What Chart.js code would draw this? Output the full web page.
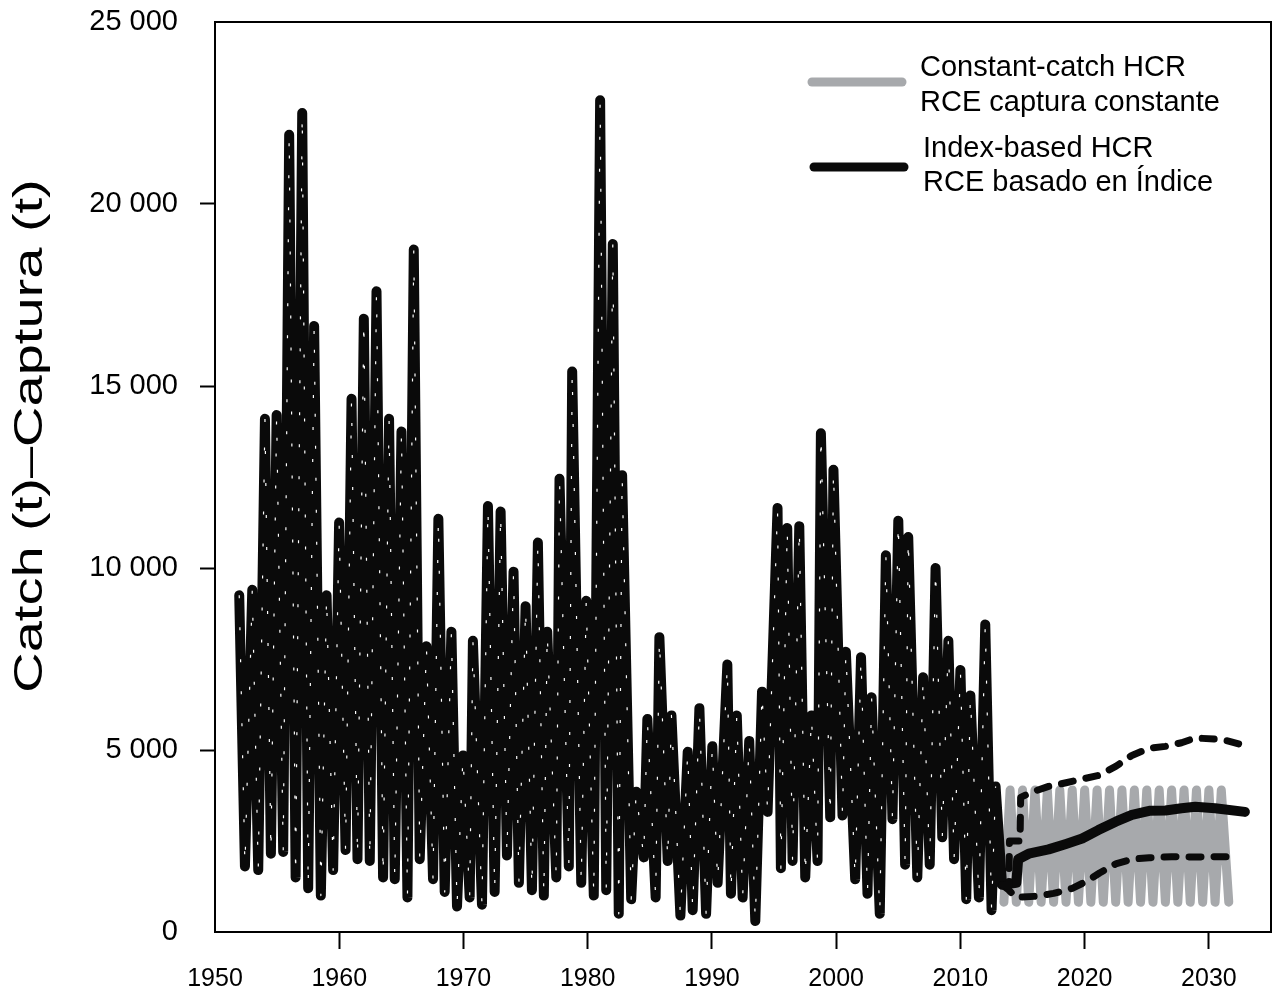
<!DOCTYPE html>
<html>
<head>
<meta charset="utf-8">
<script src="https://cdn.jsdelivr.net/npm/chart.js@4.4.1/dist/chart.umd.min.js"></script>
<style>
  html, body { margin: 0; padding: 0; background: #fff; }
  canvas { display: block; }
</style>
</head>
<body>
<canvas id="catchChart" width="1273" height="994"></canvas>
<script>
// observed catch (t), one peak and one trough per season
const histYears = [
  1951.95, 1952.41, 1953.0, 1953.48, 1954.02, 1954.5, 1954.96, 1955.49, 1955.97, 1956.49,
  1957.02, 1957.5, 1957.98, 1958.52, 1958.98, 1959.51, 1959.99, 1960.51, 1960.99, 1961.47,
  1961.98, 1962.46, 1963.0, 1963.53, 1964.01, 1964.47, 1965.01, 1965.49, 1966.0, 1966.48,
  1967.02, 1967.55, 1967.98, 1968.49, 1969.03, 1969.48, 1969.96, 1970.5, 1970.76, 1971.49,
  1971.97, 1972.51, 1972.99, 1973.5, 1974.03, 1974.46, 1975.0, 1975.51, 1975.99, 1976.47,
  1976.74, 1977.47, 1977.73, 1978.48, 1978.75, 1979.48, 1979.88, 1980.49, 1981.0, 1981.49,
  1982.02, 1982.5, 1982.77, 1983.5, 1983.9, 1984.51, 1984.8, 1985.47, 1985.77, 1986.44,
  1986.74, 1987.46, 1988.05, 1988.45, 1988.99, 1989.53, 1990.03, 1990.46, 1991.24, 1991.53,
  1992.0, 1992.47, 1993.0, 1993.49, 1994.03, 1994.48, 1995.28, 1995.55, 1996.06, 1996.49,
  1997.03, 1997.51, 1998.01, 1998.5, 1998.77, 1999.52, 1999.78, 2000.51, 2000.78, 2001.53,
  2002.0, 2002.52, 2002.85, 2003.51, 2004.0, 2004.53, 2005.0, 2005.55, 2005.8, 2006.53,
  2007.0, 2007.53, 2008.0, 2008.54, 2009.03, 2009.49, 2010.0, 2010.47, 2010.8, 2011.49,
  2012.0, 2012.51, 2012.83
];
const histCatch = [
  9250, 1800, 9400, 1700, 14100, 2150, 14200, 2200, 21900, 1500,
  22500, 1200, 16650, 1000, 9250, 1700, 11250, 2250, 14650, 2000,
  16850, 1950, 17600, 1500, 14100, 1450, 13750, 950, 18750, 2000,
  7850, 1450, 11350, 1100, 8250, 700, 4850, 950, 8000, 750,
  11700, 1100, 11550, 2100, 9900, 1350, 8950, 1150, 10700, 1000,
  8250, 1500, 12450, 1800, 15400, 1350, 9100, 1000, 22850, 1150,
  18900, 500, 12550, 900, 3850, 2050, 5850, 950, 8100, 1950,
  5950, 450, 4950, 600, 6150, 500, 5100, 1350, 7350, 1050,
  5950, 950, 5250, 300, 6600, 3300, 11650, 1750, 11100, 1950,
  11150, 1500, 5950, 1950, 13700, 3150, 12700, 3200, 7700, 1450,
  7550, 1050, 6450, 500, 10350, 3100, 11300, 1850, 10850, 1500,
  7000, 1850, 10000, 2600, 8000, 2000, 7200, 900, 6500, 950,
  8450, 600, 4000
];

// index-based HCR projection: median and dashed bounds
const medianYears = [2013.35, 2014.5, 2014.65, 2015.5, 2017.1, 2018.5, 2019.8, 2021.1, 2022.5, 2023.8, 2025.2, 2026.5, 2027.8, 2028.9, 2030.5, 2032.9];
const medianCatch = [1300, 1350, 2000, 2150, 2270, 2420, 2570, 2800, 3030, 3220, 3330, 3340, 3400, 3440, 3400, 3300];

const upperYears = [2013.35, 2013.9, 2013.95, 2014.8, 2014.85, 2015.8, 2017.1, 2018.5, 2019.8, 2021.1, 2022.5, 2023.8, 2025.2, 2026.5, 2027.8, 2028.9, 2030.5, 2031.5, 2032.9];
const upperCatch = [1300, 1250, 2500, 2500, 3700, 3850, 4000, 4100, 4200, 4300, 4550, 4850, 5050, 5100, 5200, 5330, 5300, 5250, 5120];

const lowerYears = [2013.35, 2013.9, 2014.5, 2016.0, 2017.5, 2019.0, 2020.2, 2021.2, 2022.5, 2023.8, 2025.2, 2027.0, 2029.0, 2030.5, 2032.4];
const lowerCatch = [1300, 1150, 950, 980, 1060, 1200, 1400, 1620, 1870, 2000, 2040, 2070, 2060, 2070, 2070];

// constant-catch HCR projection
const constYears = [
  2013.5, 2014, 2014.5, 2015, 2015.5, 2016, 2016.5, 2017, 2017.5, 2018, 2018.5, 2019, 2019.5,
  2020, 2020.5, 2021, 2021.5, 2022, 2022.5, 2023, 2023.5, 2024, 2024.5, 2025, 2025.5, 2026,
  2026.5, 2027, 2027.5, 2028, 2028.5, 2029, 2029.5, 2030, 2030.5, 2031, 2031.6
];
const constCatch = [
  820, 3900, 820, 3900, 820, 3900, 820, 3900, 820, 3900, 820, 3900, 820,
  3900, 820, 3900, 820, 3900, 820, 3900, 820, 3900, 820, 3900, 820, 3900,
  820, 3900, 820, 3900, 820, 3900, 820, 3900, 820, 3900, 820
];

const xTicks = [1950, 1960, 1970, 1980, 1990, 2000, 2010, 2020, 2030];
const yTicks = [0, 5000, 10000, 15000, 20000, 25000];
const yTitle = 'Catch (t)\u2013Captura (t)';
const legendItems = [
  { lines: ['Constant-catch HCR', 'RCE captura constante'], color: '#a7a9ac' },
  { lines: ['Index-based HCR', 'RCE basado en \u00cdndice'], color: '#0a0a0a' }
];

const FONT = "'Liberation Sans', Arial, sans-serif";
const BLACK = '#0a0a0a';
const GREY = '#a7a9ac';

function toPoints(xs, ys) {
  return xs.map((x, i) => ({ x: x, y: ys[i] }));
}

function fmtThousands(v) {
  return String(v).replace(/\B(?=(\d{3})+(?!\d))/g, ' ');
}

// frame round the plot area
const framePlugin = {
  id: 'frame',
  afterDatasetsDraw(chart) {
    const a = chart.chartArea;
    const ctx = chart.ctx;
    ctx.save();
    ctx.strokeStyle = '#000';
    ctx.lineWidth = 2;
    ctx.strokeRect(a.left, a.top, a.right - a.left, a.bottom - a.top);
    ctx.restore();
  }
};

// two-line legend entries and the rotated y title
const annotPlugin = {
  id: 'annot',
  afterDraw(chart) {
    const ctx = chart.ctx;
    ctx.save();
    ctx.lineCap = 'round';
    ctx.lineWidth = 9;
    const rows = [
      { y1: 82, t1: 68, t2: 103, x: 812, tx: 920 },
      { y1: 167, t1: 149, t2: 183, x: 814, tx: 923 }
    ];
    legendItems.forEach((item, i) => {
      const r = rows[i];
      ctx.strokeStyle = item.color;
      ctx.beginPath();
      ctx.moveTo(r.x, r.y1);
      ctx.lineTo(r.x + 90, r.y1);
      ctx.stroke();
      ctx.fillStyle = '#000';
      ctx.font = '29px ' + FONT;
      ctx.textBaseline = 'middle';
      ctx.textAlign = 'left';
      ctx.fillText(item.lines[0], r.tx, r.t1);
      ctx.fillText(item.lines[1], r.tx, r.t2);
    });

    ctx.translate(31, 436);
    ctx.rotate(-Math.PI / 2);
    ctx.scale(1.4, 1);
    ctx.font = '40px ' + FONT;
    ctx.textAlign = 'center';
    ctx.textBaseline = 'middle';
    ctx.fillStyle = '#000';
    ctx.fillText(yTitle, 0, 0);
    ctx.restore();
  }
};

const blackLine = toPoints(histYears, histCatch).concat(toPoints(medianYears, medianCatch));

new Chart(document.getElementById('catchChart'), {
  type: 'line',
  data: {
    datasets: [
      {
        label: 'hist-dash',
        data: toPoints(histYears, histCatch),
        borderColor: '#ffffff',
        borderWidth: 1.2,
        borderDash: [3, 29],
        borderCapStyle: 'butt',
        order: 0
      },
      {
        label: 'upper',
        data: toPoints(upperYears, upperCatch),
        borderColor: BLACK,
        borderWidth: 7,
        borderDash: [12, 13],
        order: 1
      },
      {
        label: 'lower',
        data: toPoints(lowerYears, lowerCatch),
        borderColor: BLACK,
        borderWidth: 7,
        borderDash: [12, 13],
        order: 1
      },
      {
        label: 'Index-based HCR',
        data: blackLine,
        borderColor: BLACK,
        borderWidth: 10,
        order: 2
      },
      {
        label: 'Constant-catch HCR',
        data: toPoints(constYears, constCatch),
        borderColor: GREY,
        borderWidth: 9,
        order: 3
      }
    ]
  },
  options: {
    responsive: false,
    animation: false,
    devicePixelRatio: 1,
    layout: { autoPadding: false, padding: { top: 22, right: 2, left: 0, bottom: 0 } },
    elements: {
      point: { radius: 0 },
      line: { tension: 0, borderCapStyle: 'round', borderJoinStyle: 'round' }
    },
    plugins: {
      legend: { display: false },
      tooltip: { enabled: false }
    },
    scales: {
      x: {
        type: 'linear',
        min: 1950,
        max: 2035,
        afterFit: s => { s.height = 62; s.paddingLeft = 0; s.paddingRight = 0; },
        afterBuildTicks: s => { s.ticks = xTicks.map(v => ({ value: v })); },
        grid: {
          drawOnChartArea: false,
          drawTicks: true,
          tickLength: 17,
          tickWidth: 2,
          tickColor: c => (c.tick && c.tick.value === 1950 ? 'rgba(0,0,0,0)' : '#000')
        },
        border: { display: true, color: '#000', width: 2 },
        ticks: {
          color: '#000',
          padding: 15,
          maxRotation: 0,
          autoSkip: false,
          font: { family: FONT, size: 25 },
          callback: v => String(v)
        }
      },
      y: {
        min: 0,
        max: 25000,
        afterFit: s => { s.width = 215; s.paddingTop = 0; s.paddingBottom = 0; },
        afterBuildTicks: s => { s.ticks = yTicks.map(v => ({ value: v })); },
        grid: {
          drawOnChartArea: false,
          drawTicks: true,
          tickLength: 15,
          tickWidth: 2,
          tickColor: c => (c.tick && (c.tick.value === 0 || c.tick.value === 25000) ? 'rgba(0,0,0,0)' : '#000')
        },
        border: { display: true, color: '#000', width: 2 },
        ticks: {
          color: '#000',
          padding: 22,
          autoSkip: false,
          font: { family: FONT, size: 29 },
          callback: v => fmtThousands(v)
        }
      }
    }
  },
  plugins: [framePlugin, annotPlugin]
});
</script>
</body>
</html>
